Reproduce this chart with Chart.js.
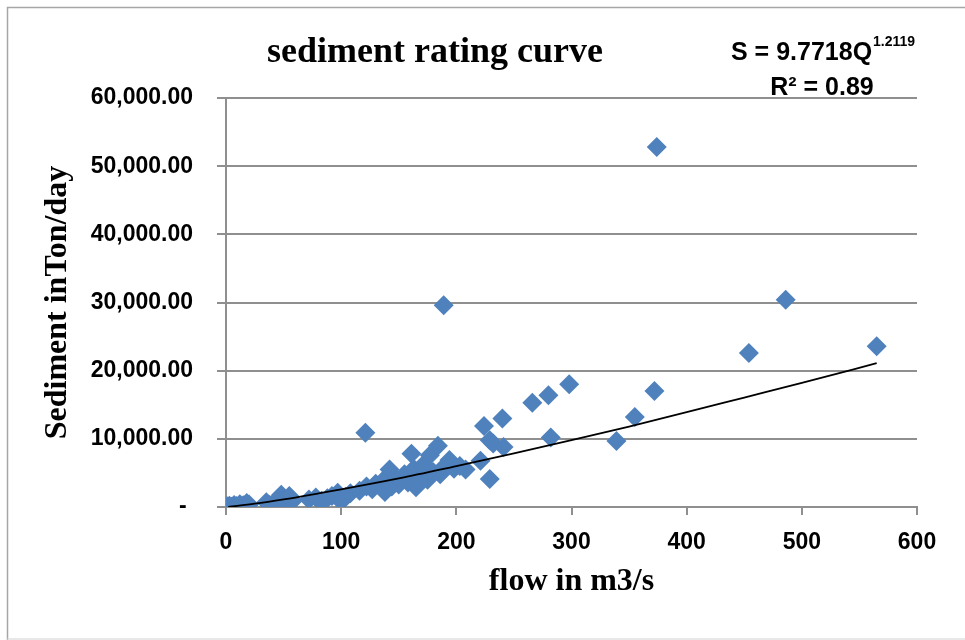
<!DOCTYPE html>
<html lang="en">
<head>
  <meta charset="UTF-8" />
  <title>sediment rating curve</title>
  <script src="https://cdn.jsdelivr.net/npm/chart.js"></script>
  <style>
    body { margin: 0; background: #fff; overflow: hidden; }
    canvas { display: block; }
  </style>
</head>
<body>
  <canvas id="chart" width="965" height="640"></canvas>

  <script>
    // observed flow (m3/s) and sediment load (ton/day)
    const flow = [
      1, 3, 5, 7, 9, 12, 15, 18, 20, 35, 38, 45, 48, 50, 55, 58,
      72, 78, 83, 88, 92, 97, 100, 104, 108,
      116, 121, 122, 127, 130, 136, 138, 142, 144, 147, 150, 155, 158,
      161, 163, 165, 168, 172, 175, 177, 180, 184, 186, 189, 190, 194, 198, 203, 208,
      221, 224, 229, 229, 232, 240, 241, 266, 280, 282, 298,
      339, 355, 372, 374, 454, 486, 565
    ];
    const sediment = [
      100, 200, 50, 300, 150, 400, 250, 600, 350, 700, 300, 1200, 1800, 600, 1600, 900,
      1100, 1400, 900, 1300, 1600, 2100, 800, 1500, 2000,
      2400, 10900, 3000, 2600, 3400, 3800, 2200, 5500, 3000, 4200, 3300, 4800, 3600,
      7800, 5600, 2900, 4300, 6300, 4000, 7600, 5100, 9000, 4800, 29600, 6000, 6900, 5600, 6000, 5500,
      6800, 11900, 4100, 9800, 9300, 13000, 8800, 15300, 16400, 10200, 18000,
      9700, 13200, 17000, 52800, 22600, 30400, 23600
    ];

    // power trend line S = 9.7718Q^1.2119
    const trendFlow = [2, 25, 50, 100, 150, 200, 250, 300, 350, 400, 450, 500, 565];
    const trendSediment = [20, 480, 1120, 2600, 4200, 6000, 7850, 9800, 11800, 13900, 16050, 18200, 21100];

    const xTickLabels = ['0', '100', '200', '300', '400', '500', '600'];
    const yTickLabels = ['-', '10,000.00', '20,000.00', '30,000.00', '40,000.00', '50,000.00', '60,000.00'];

    const gridColor = '#8f8f8f';

    const textPlugin = {
      id: 'texts',
      beforeDraw(chart) {
        const ctx = chart.ctx;
        ctx.save();
        ctx.strokeStyle = '#a6a6a6';
        ctx.lineWidth = 1.5;
        ctx.beginPath();
        ctx.moveTo(7.5, 640);
        ctx.lineTo(7.5, 7.5);
        ctx.lineTo(965, 7.5);
        ctx.stroke();
        ctx.strokeStyle = '#e0e0e0';
        ctx.beginPath();
        ctx.moveTo(7.5, 639);
        ctx.lineTo(965, 639);
        ctx.stroke();
        ctx.restore();
      },
      afterDraw(chart) {
        const ctx = chart.ctx;
        ctx.save();
        ctx.fillStyle = '#000';
        ctx.textBaseline = 'alphabetic';

        ctx.font = 'bold 36px "Liberation Serif", "Times New Roman", serif';
        ctx.textAlign = 'center';
        ctx.fillText('sediment rating curve', 435, 62);

        ctx.textAlign = 'left';
        ctx.font = 'bold 25px "Liberation Sans", Arial, sans-serif';
        const main = 'S = 9.7718Q';
        ctx.fillText(main, 731, 60);
        const w = ctx.measureText(main).width;
        ctx.font = 'bold 14px "Liberation Sans", Arial, sans-serif';
        ctx.fillText('1.2119', 731 + w + 1, 46);

        ctx.textAlign = 'center';
        ctx.font = 'bold 25px "Liberation Sans", Arial, sans-serif';
        ctx.fillText('R² = 0.89', 822, 95);
        ctx.restore();
      }
    };

    const ctx = document.getElementById('chart').getContext('2d');
    new Chart(ctx, {
      type: 'scatter',
      data: {
        datasets: [
          {
            label: 'trend',
            type: 'line',
            data: trendFlow.map((q, i) => ({ x: q, y: trendSediment[i] })),
            borderColor: '#000',
            borderWidth: 1.8,
            pointRadius: 0,
            fill: false,
            cubicInterpolationMode: 'monotone'
          },
          {
            label: 'sediment',
            data: flow.map((q, i) => ({ x: q, y: sediment[i] })),
            backgroundColor: '#4F81BD',
            borderColor: '#4F81BD',
            borderWidth: 0,
            pointStyle: 'rectRot',
            pointRadius: 10,
            pointHoverRadius: 10
          }
        ]
      },
      options: {
        responsive: false,
        animation: false,
        events: [],
        layout: { padding: { top: 98, right: 48, left: 0, bottom: 0 } },
        plugins: {
          legend: { display: false },
          tooltip: { enabled: false }
        },
        scales: {
          x: {
            type: 'linear',
            min: 0,
            max: 600,
            afterFit: s => { s.height = 133; },
            ticks: {
              stepSize: 100,
              color: '#000',
              padding: 14,
              maxRotation: 0,
              font: { family: '"Liberation Sans", Arial, sans-serif', size: 23, weight: 'bold' },
              callback: (v, i) => xTickLabels[i]
            },
            grid: { drawOnChartArea: false, tickLength: 8, color: gridColor, lineWidth: 2 },
            border: { color: gridColor, width: 2 },
            title: {
              display: true,
              text: 'flow in m3/s',
              color: '#000',
              padding: { top: 0, bottom: 39 },
              font: { family: '"Liberation Serif", "Times New Roman", serif', size: 32, weight: 'bold' }
            }
          },
          y: {
            min: 0,
            max: 60000,
            afterFit: s => { s.width = 226; },
            ticks: {
              stepSize: 10000,
              color: '#000',
              padding: 24,
              font: { family: '"Liberation Sans", Arial, sans-serif', size: 23, weight: 'bold' },
              callback: (v, i) => (i === 0 ? yTickLabels[i] + ' ' : yTickLabels[i])
            },
            grid: { tickLength: 9, color: gridColor, lineWidth: 2 },
            border: { color: gridColor, width: 2 },
            title: {
              display: true,
              text: 'Sediment inTon/day',
              color: '#000',
              padding: { top: 39, bottom: 0 },
              font: { family: '"Liberation Serif", "Times New Roman", serif', size: 32, weight: 'bold' }
            }
          }
        }
      },
      plugins: [textPlugin]
    });
  </script>
</body>
</html>
